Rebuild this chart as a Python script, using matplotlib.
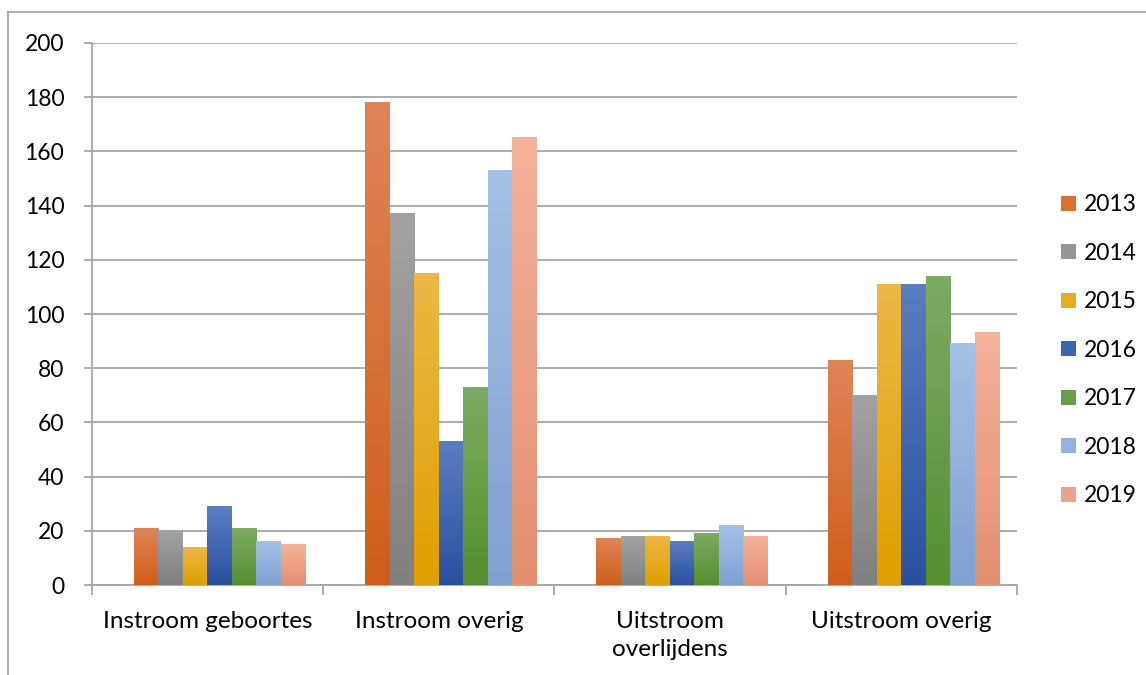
import numpy as np
import matplotlib
matplotlib.use("Agg")
import matplotlib.pyplot as plt
from matplotlib.colors import LinearSegmentedColormap
from matplotlib.lines import Line2D
from matplotlib.patches import Patch

# data
categories = ["Instroom geboortes", "Instroom overig", "Uitstroom\noverlijdens", "Uitstroom overig"]
years = ["2013", "2014", "2015", "2016", "2017", "2018", "2019"]
v2013 = [21, 178, 17, 83]
v2014 = [20, 137, 18, 70]
v2015 = [14, 115, 18, 111]
v2016 = [29, 53, 16, 111]
v2017 = [21, 73, 19, 114]
v2018 = [16, 153, 22, 89]
v2019 = [15, 165, 18, 93]
series = [v2013, v2014, v2015, v2016, v2017, v2018, v2019]

# (top colour, bottom colour, legend colour)
colours = [
    ("#DF8458", "#D05E1A", "#D9702F"),
    ("#A2A2A2", "#808080", "#959595"),
    ("#ECB745", "#E0A000", "#E7AC20"),
    ("#5B7DC2", "#2A509F", "#3F64B2"),
    ("#7CAB62", "#55902F", "#679E46"),
    ("#A4C2E6", "#7FA1D2", "#93B4DE"),
    ("#F4B29A", "#E39070", "#EEA386"),
]

plt.rcParams['font.family'] = ['Lato', 'DejaVu Sans']

fig = plt.figure(figsize=(11.46, 6.75), dpi=100)
ax = fig.add_axes([0.0803, 0.1333, 0.8071, 0.8030])

n = len(series)
bw = 0.106
shift = 0.052  # bars sit a bit right of the category centre in the original
x = np.arange(len(categories))
for i, vals in enumerate(series):
    top, bottom, _ = colours[i]
    cmap = LinearSegmentedColormap.from_list("g%d" % i, [bottom, top])
    xs = x + shift + (i - (n - 1) / 2) * bw
    for xc, v in zip(xs, vals):
        grad = np.linspace(0, 1, 64).reshape(-1, 1)
        ax.imshow(grad, extent=[xc - bw / 2, xc + bw / 2, 0, v], origin='lower',
                  cmap=cmap, aspect='auto', interpolation='bilinear', zorder=3)

ax.set_xlim(-0.5, len(categories) - 0.5)
ax.set_ylim(0, 200)
ax.set_yticks(np.arange(0, 201, 20))
ax.yaxis.grid(True, color='#A6A6A6', linewidth=1.3, zorder=0)
ax.set_axisbelow(True)

ax.set_xticks(x)
ax.set_xticklabels(categories, fontsize=17.5, linespacing=1.4)
ax.set_xticks(np.arange(-0.5, len(categories)), minor=True)
ax.tick_params(axis='x', which='major', length=0, pad=19)
ax.tick_params(axis='x', which='minor', length=7, color='#A6A6A6', width=1.3)
ax.tick_params(axis='y', length=6, color='#A6A6A6', width=1.3, labelsize=16.5, pad=14)

for s in ['top', 'right']:
    ax.spines[s].set_visible(False)
for s in ['left', 'bottom']:
    ax.spines[s].set_color('#A6A6A6')
    ax.spines[s].set_linewidth(1.3)

handles = [Patch(facecolor=c[2], label=y) for c, y in zip(colours, years)]
ax.legend(handles=handles, loc='center left', bbox_to_anchor=(1.025, 0.433), frameon=False,
          fontsize=16.5, labelspacing=1.2, handlelength=0.65, handleheight=0.65, handletextpad=0.35)

# outer chart border
fig.add_artist(Line2D([8 / 1146, 8 / 1146], [0, 1 - 12 / 675], transform=fig.transFigure,
                      color='#A6A6A6', linewidth=1.3))
fig.add_artist(Line2D([8 / 1146, 1], [1 - 12 / 675, 1 - 12 / 675], transform=fig.transFigure,
                      color='#A6A6A6', linewidth=1.3))

fig.savefig("out.png", dpi=100)
